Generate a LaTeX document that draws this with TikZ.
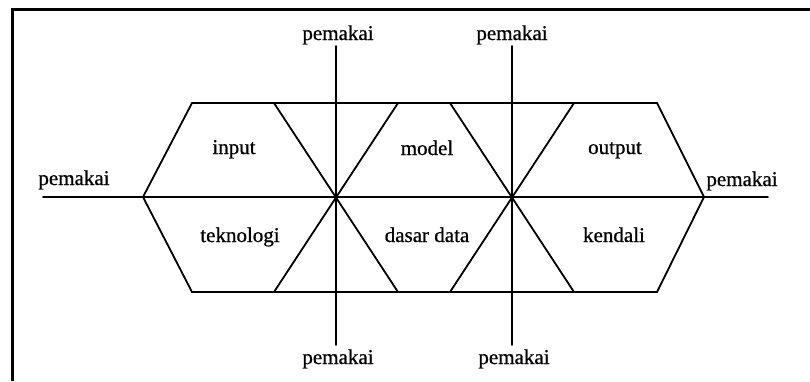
\documentclass[tikz,border=0pt]{standalone}
\usepackage{fontspec}
\setmainfont{Liberation Serif}
\newfontfamily\lblfont[FakeBold=0.7]{Liberation Serif}
\begin{document}
\begin{tikzpicture}[x=1pt,y=-1pt,
  lbl/.style={font=\lblfont\fontsize{21}{24}\selectfont, inner sep=0pt, anchor=base},
  ln/.style={line width=1.8pt, line cap=round, line join=miter},
  frame/.style={line width=3pt}]
\useasboundingbox (0,0) rectangle (810,381);
% frame (cut at right and bottom)
\draw[frame] (12,381) -- (12,9) -- (810,9);
% key points
\coordinate (c1) at (336,197);
\coordinate (c2) at (512,197);
\coordinate (L) at (143,197);
\coordinate (R) at (704,197);
\coordinate (TL) at (192,103);
\coordinate (BL) at (192,292);
\coordinate (TR) at (657,103);
\coordinate (BR) at (657,292);
\coordinate (t1) at (274,103); \coordinate (t2) at (398,103);
\coordinate (t3) at (450,103); \coordinate (t4) at (574,103);
\coordinate (b1) at (274,292); \coordinate (b2) at (398,292);
\coordinate (b3) at (450,292); \coordinate (b4) at (574,292);
\coordinate (hl) at (43,197);
\coordinate (hr) at (768,197);
\coordinate (v1t) at (336,46); \coordinate (v1b) at (336,345);
\coordinate (v2t) at (512,46); \coordinate (v2b) at (512,345);
% hexagon
\draw[ln] (L) -- (TL) -- (TR) -- (R) -- (BR) -- (BL) -- cycle;
% axes
\draw[ln] (hl) -- (hr);
\draw[ln] (v1t) -- (v1b);
\draw[ln] (v2t) -- (v2b);
% diagonals
\draw[ln] (t1) -- (b2);
\draw[ln] (t2) -- (b1);
\draw[ln] (t3) -- (b4);
\draw[ln] (t4) -- (b3);
% labels
\node[lbl] (pt1) at (338,40) {pemakai};
\node[lbl] (pt2) at (512,40) {pemakai};
\node[lbl] (pb1) at (338,364) {pemakai};
\node[lbl] (pb2) at (514,364) {pemakai};
\node[lbl] (pl) at (74,185) {pemakai};
\node[lbl] (pr) at (742,186) {pemakai};
\node[lbl] (in) at (234,154) {input};
\node[lbl] (mo) at (427,155) {model};
\node[lbl] (ou) at (615,154) {output};
\node[lbl] (te) at (240,242) {teknologi};
\node[lbl] (dd) at (427,242) {dasar data};
\node[lbl] (ke) at (614,242) {kendali};
\end{tikzpicture}
\end{document}
